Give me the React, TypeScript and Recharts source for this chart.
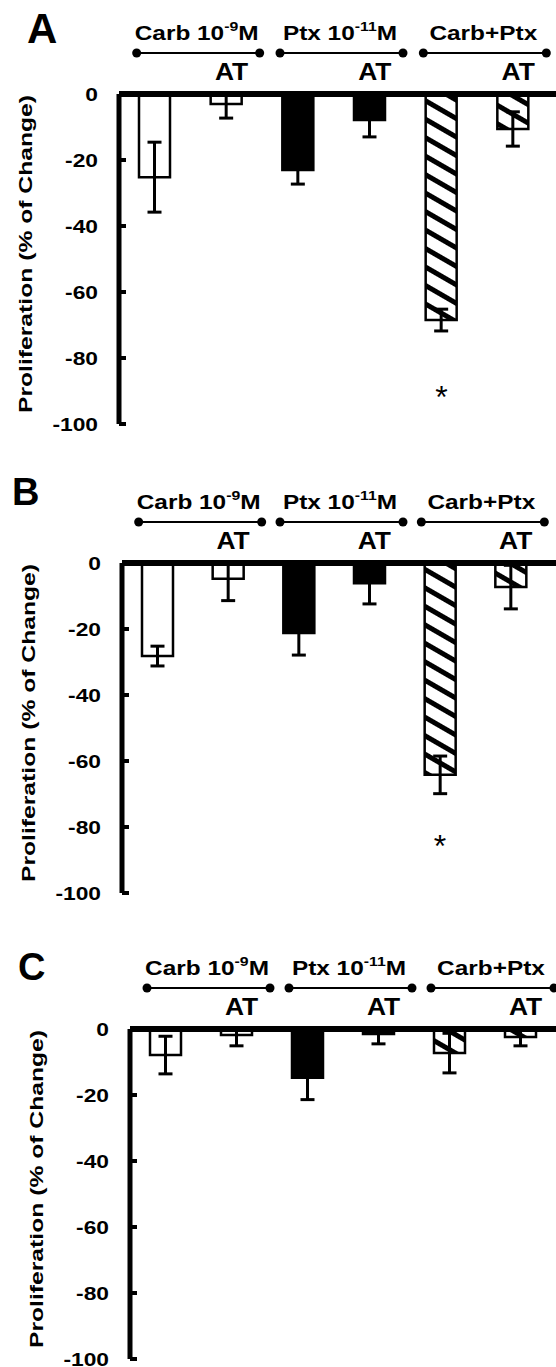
import React from 'react';
import { BarChart, Bar, XAxis, YAxis, Cell, ErrorBar, ReferenceDot } from 'recharts';

// categories (bar order, left to right)
const categories = ['Carb', 'Carb AT', 'Ptx', 'Ptx AT', 'Carb+Ptx', 'Carb+Ptx AT'];
// group headers (one per bracket)
const groupMain = ['Carb 10', 'Ptx 10', 'Carb+Ptx'];
const groupSup = ['-9', '-11', ''];
const groupTail = ['M', 'M', ''];
const yTicks = [0, -20, -40, -60, -80, -100];

// panel A
const valuesA = [-25.2, -3.0, -23.0, -7.9, -68.5, -10.6];
const errorsA = [10.6, 4.3, 4.3, 5.1, 3.3, 5.2];
const starA = -89.7;
// panel B
const valuesB = [-28.2, -4.8, -21.2, -6.1, -64.2, -7.3];
const errorsB = [3.0, 6.6, 6.7, 6.3, 5.7, 6.6];
const starB = -83.6;
// panel C
const valuesC = [-7.9, -1.8, -14.8, -1.5, -7.3, -2.4];
const errorsC = [5.7, 3.3, 6.6, 3.0, 6.0, 2.7];

const FONT = '"Liberation Sans", Arial, sans-serif';
const TOP = 94;
const AXIS_H = 30;
const PLOT_H = 330;

// bar look by category index
const barFill = ['#fff', '#fff', '#000', '#000', 'url(#hatch)', 'url(#hatch)'];

const panels = [
  { letter: 'A', values: valuesA, errors: errorsA, star: starA, y0: 94, left: 119, padRight: 7, bottom: 14, lx: 27, lsize: 42, lbase: 43 },
  { letter: 'B', values: valuesB, errors: errorsB, star: starB, y0: 563, left: 122, padRight: 10, bottom: 14, lx: 12, lsize: 38, lbase: 505 },
  { letter: 'C', values: valuesC, errors: errorsC, star: null, y0: 1029, left: 130, padRight: 0, bottom: 8, lx: 18, lsize: 38, lbase: 980 },
];

const HeaderTick = (props: any) => {
  const { x, y, index, step } = props;
  if (index % 2 === 0) return <g />;
  const gi = (index - 1) / 2;
  const pairC = x - step / 2;
  return (
    <g fontFamily={FONT} fontWeight="bold" fill="#000">
      <text transform={`translate(${pairC + 6},${y - 54}) scale(1.22,1)`} textAnchor="middle" fontSize={20}>
        <tspan>{groupMain[gi]}</tspan>
        {groupSup[gi] && <tspan dy={-9} fontSize={13}>{groupSup[gi]}</tspan>}
        {groupTail[gi] && <tspan dy={9}>{groupTail[gi]}</tspan>}
      </text>
      <line x1={pairC - 54} x2={pairC + 69} y1={y - 41} y2={y - 41} stroke="#000" strokeWidth={2} />
      <circle cx={pairC - 54} cy={y - 41} r={4.5} fill="#000" />
      <circle cx={pairC + 69} cy={y - 41} r={4.5} fill="#000" />
      <text transform={`translate(${x + 5},${y - 14}) scale(1.1,1)`} textAnchor="middle" fontSize={24}>AT</text>
    </g>
  );
};

const YTick = (props: any) => {
  const { x, y, payload } = props;
  return (
    <g>
      <line x1={x} x2={x + 7} y1={y} y2={y} stroke="#000" strokeWidth={4} />
      <text transform={`translate(${x - 21},${y}) scale(1.2,1)`} dy="0.36em" textAnchor="end"
        fontFamily={FONT} fontWeight="bold" fontSize={19} fill="#000">{payload.value}</text>
    </g>
  );
};

const Panel = ({ p }: any) => {
  // upper whisker stops at the zero line, as in the figure
  const data = categories.map((c, i) => ({
    name: c,
    value: p.values[i],
    err: [p.errors[i], Math.min(p.errors[i], -p.values[i])],
  }));
  const step = (556 - p.left - p.padRight) / categories.length;
  return (
    <div style={{ position: 'absolute', left: 0, top: p.y0 - TOP }}>
      <BarChart width={556} height={TOP + PLOT_H + p.bottom} data={data} barSize={31}
        margin={{ top: TOP - AXIS_H, right: 0, bottom: p.bottom, left: 0 }}>
        <XAxis dataKey="name" orientation="top" height={AXIS_H} interval={0} tickLine={false}
          tickSize={0} tickMargin={0} padding={{ left: 0, right: p.padRight }}
          axisLine={{ stroke: '#000', strokeWidth: 6 }}
          tick={(t: any) => <HeaderTick {...t} step={step} />} />
        <YAxis type="number" domain={[-100, 0]} ticks={yTicks} interval={0} width={p.left}
          allowDataOverflow tickLine={false} tickSize={0} tickMargin={0}
          axisLine={{ stroke: '#000', strokeWidth: 5 }}
          tick={(t: any) => <YTick {...t} />} />
        <Bar dataKey="value" isAnimationActive={false} strokeWidth={2.5} stroke="#000">
          {data.map((d, i) => (
            <Cell key={d.name} fill={barFill[i]} stroke="#000" />
          ))}
          <ErrorBar dataKey="err" width={7} strokeWidth={3} stroke="#000" direction="y" isAnimationActive={false} />
        </Bar>
        {p.star != null && (
          <ReferenceDot x={categories[4]} y={p.star} r={0} ifOverflow="visible"
            shape={(s: any) => (
              <text x={s.cx} y={s.cy + 18} textAnchor="middle" fontFamily={FONT} fontSize={32} fill="#000">*</text>
            )} />
        )}
      </BarChart>
    </div>
  );
};

export default function App() {
  return (
    <div style={{ position: 'absolute', left: 0, top: 0, width: 556, height: 1367, background: '#fff', overflow: 'hidden' }}>
      {panels.map((p) => <Panel key={p.letter} p={p} />)}
      <svg width={556} height={1367} style={{ position: 'absolute', left: 0, top: 0, pointerEvents: 'none' }}>
        <defs>
          <pattern id="hatch" patternUnits="userSpaceOnUse" width={16} height={16} patternTransform="rotate(30)">
            <rect width={16} height={16} fill="#fff" />
            <rect width={16} height={5} fill="#000" />
          </pattern>
        </defs>
        {panels.map((p) => (
          <g key={p.letter} fontFamily={FONT} fontWeight="bold" fill="#000">
            <text x={p.lx} y={p.lbase} fontSize={p.lsize}>{p.letter}</text>
            <text transform={`translate(${p.left - 87},${p.y0 + 160}) rotate(-90) scale(1.3,1)`}
              textAnchor="middle" fontSize={19}>Proliferation (% of Change)</text>
          </g>
        ))}
      </svg>
    </div>
  );
}
